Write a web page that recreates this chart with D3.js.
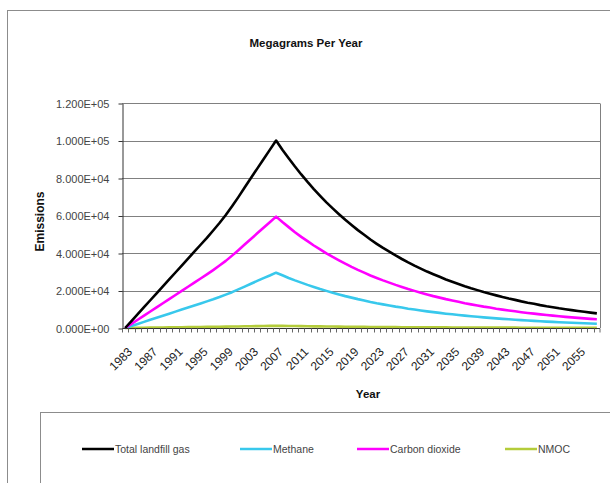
<!DOCTYPE html>
<html>
<head>
<meta charset="utf-8">
<script src="https://cdn.jsdelivr.net/npm/d3@7/dist/d3.min.js"></script>
<style>
  html, body { margin: 0; padding: 0; background: #fff; }
  svg { display: block; font-family: "Liberation Sans", Arial, sans-serif; }
</style>
</head>
<body>
<svg id="chart" width="610" height="483"></svg>
<script>
// Landfill gas emissions, Mg per year, 1983-2058
const years = d3.range(1983, 2059);

const totalGas = [
  0, 3700, 7400, 11100, 14800, 18500, 22200, 25900, 29600, 33300,
  37000, 40700, 44400, 48100, 52000, 56000, 60300, 64900, 69800, 74900,
  80000, 85000, 90000, 95000, 100000, 95100, 90500, 86100, 81900, 77900,
  74100, 70500, 67000, 63800, 60700, 57700, 54900, 52200, 49700, 47200,
  44900, 42700, 40700, 38700, 36800, 35000, 33300, 31700, 30100, 28700,
  27300, 25900, 24700, 23500, 22300, 21200, 20200, 19200, 18300, 17400,
  16500, 15700, 15000, 14200, 13500, 12900, 12200, 11600, 11100, 10500,
  10000, 9540, 9070, 8630, 8210, 7810
];

const methane = [
  0, 1090, 2180, 3270, 4370, 5460, 6550, 7640, 8730, 9820,
  10900, 12000, 13100, 14200, 15300, 16500, 17800, 19100, 20600, 22100,
  23600, 25100, 26600, 28000, 29500, 28100, 26700, 25400, 24200, 23000,
  21900, 20800, 19800, 18800, 17900, 17000, 16200, 15400, 14700, 13900,
  13200, 12600, 12000, 11400, 10900, 10300, 9820, 9350, 8880, 8470,
  8050, 7640, 7290, 6930, 6580, 6250, 5960, 5660, 5400, 5130,
  4870, 4630, 4430, 4190, 3980, 3810, 3600, 3420, 3270, 3100,
  2950, 2810, 2680, 2550, 2420, 2300
];

const carbonDioxide = [
  0, 2200, 4400, 6590, 8790, 11000, 13200, 15400, 17600, 19800,
  22000, 24200, 26400, 28600, 30900, 33300, 35800, 38600, 41500, 44500,
  47500, 50500, 53500, 56400, 59400, 56500, 53800, 51100, 48600, 46300,
  44000, 41900, 39800, 37900, 36100, 34300, 32600, 31000, 29500, 28000,
  26700, 25400, 24200, 23000, 21900, 20800, 19800, 18800, 17900, 17000,
  16200, 15400, 14700, 14000, 13200, 12600, 12000, 11400, 10900, 10300,
  9800, 9330, 8910, 8430, 8020, 7660, 7250, 6890, 6590, 6240,
  5940, 5670, 5390, 5130, 4880, 4640
];

const nmoc = [
  0, 44, 89, 133, 178, 222, 266, 311, 355, 400,
  444, 488, 533, 577, 624, 672, 724, 779, 838, 899,
  960, 1020, 1080, 1140, 1200, 1140, 1090, 1030, 980, 930,
  890, 850, 800, 770, 730, 690, 660, 630, 600, 570,
  540, 510, 490, 460, 440, 420, 400, 380, 360, 340,
  330, 310, 300, 280, 270, 250, 240, 230, 220, 210,
  200, 190, 180, 170, 160, 150, 150, 140, 130, 130,
  120, 110, 110, 100, 100, 90
];

const seriesNames = ["Total landfill gas", "Methane", "Carbon dioxide", "NMOC"];
const seriesColors = ["#000000", "#38c8ec", "#ff00ff", "#b4cc3a"];
const seriesValues = [totalGas, methane, carbonDioxide, nmoc];

const yTicks = [0, 20000, 40000, 60000, 80000, 100000, 120000];
const xLabelYears = d3.range(1983, 2059, 4);

const svg = d3.select("#chart");

// outer chart frame
svg.append("rect")
  .attr("x", 7.5).attr("y", 10.5)
  .attr("width", 620).attr("height", 500)
  .attr("fill", "#fff").attr("stroke", "#8c8c8c").attr("stroke-width", 1);

const plot = { left: 122, right: 600, top: 103, bottom: 328 };

const x = d3.scaleBand()
  .domain(years)
  .range([plot.left, plot.right])
  .paddingInner(0).paddingOuter(0);
const cx = yr => x(yr) + x.bandwidth() / 2;

const y = d3.scaleLinear()
  .domain([0, 120000])
  .range([plot.bottom, plot.top]);

const sci = v => {
  const [m, e] = v.toExponential(3).split("e");
  const n = Math.abs(+e);
  return m + "E" + (+e < 0 ? "-" : "+") + (n < 10 ? "0" + n : n);
};

// gridlines
svg.append("g")
  .selectAll("line")
  .data(yTicks.filter(d => d > 0))
  .join("line")
  .attr("x1", plot.left).attr("x2", plot.right)
  .attr("y1", d => Math.round(y(d)) + 0.5).attr("y2", d => Math.round(y(d)) + 0.5)
  .attr("stroke", "#808080").attr("stroke-width", 1);

// right border of plot area
svg.append("line")
  .attr("x1", plot.right + 0.5).attr("x2", plot.right + 0.5)
  .attr("y1", Math.round(y(120000)) + 0.5).attr("y2", plot.bottom)
  .attr("stroke", "#808080");

// y axis
const yAxis = svg.append("g")
  .attr("transform", `translate(${plot.left + 0.5},0.5)`)
  .call(d3.axisLeft(y).tickValues(yTicks).tickFormat(sci).tickSize(4).tickPadding(9).tickSizeOuter(0));
yAxis.select(".domain").attr("stroke", "#333");
yAxis.selectAll(".tick line").attr("stroke", "#333");
yAxis.selectAll("text")
  .attr("font-size", 11).attr("fill", "#444")
  .attr("font-family", "'Liberation Sans', Arial, sans-serif");

// series lines
const line = d3.line()
  .x((d, i) => cx(years[i]))
  .y(d => y(d));

svg.append("g")
  .selectAll("path")
  .data([3, 1, 2, 0])
  .join("path")
  .attr("d", k => line(seriesValues[k]))
  .attr("fill", "none")
  .attr("stroke", k => seriesColors[k])
  .attr("stroke-width", 2.6)
  .attr("stroke-linejoin", "round");

// x axis
const xAxisG = svg.append("g")
  .attr("transform", `translate(0,${plot.bottom + 0.5})`);
xAxisG.append("line")
  .attr("x1", plot.left).attr("x2", plot.right)
  .attr("stroke", "#333");
xAxisG.selectAll("line.tk")
  .data(years.concat([null]))
  .join("line")
  .attr("class", "tk")
  .attr("x1", d => d === null ? plot.right : Math.round(x(d)) + 0.5)
  .attr("x2", d => d === null ? plot.right : Math.round(x(d)) + 0.5)
  .attr("y1", 0).attr("y2", 4)
  .attr("stroke", "#666");

xAxisG.selectAll("text")
  .data(xLabelYears)
  .join("text")
  .attr("transform", d => `translate(${cx(d) + 2},${18}) rotate(-45)`)
  .attr("text-anchor", "end")
  .attr("dy", "0.7em")
  .attr("font-size", 12)
  .attr("fill", "#222")
  .text(d => d);

// titles
svg.append("text")
  .attr("x", 306).attr("y", 47)
  .attr("text-anchor", "middle")
  .attr("font-size", 11.5).attr("font-weight", "bold").attr("fill", "#111")
  .text("Megagrams Per Year");

svg.append("text")
  .attr("transform", `translate(44,${(plot.top + plot.bottom) / 2 + 6}) rotate(-90)`)
  .attr("text-anchor", "middle")
  .attr("font-size", 12).attr("font-weight", "bold").attr("fill", "#111")
  .text("Emissions");

svg.append("text")
  .attr("x", 368).attr("y", 398)
  .attr("text-anchor", "middle")
  .attr("font-size", 11.5).attr("font-weight", "bold").attr("fill", "#111")
  .text("Year");

// legend
svg.append("rect")
  .attr("x", 40.5).attr("y", 412.5)
  .attr("width", 600).attr("height", 100)
  .attr("fill", "#fff").attr("stroke", "#8c8c8c");

const legendX = [82, 240, 357, 505];
const legend = svg.append("g")
  .selectAll("g")
  .data(seriesNames)
  .join("g")
  .attr("transform", (d, i) => `translate(${legendX[i]},449)`);
legend.append("line")
  .attr("x1", 0).attr("x2", 32)
  .attr("stroke", (d, i) => seriesColors[i])
  .attr("stroke-width", 2.5);
legend.append("text")
  .attr("x", 33).attr("dy", "0.35em")
  .attr("font-size", 10.5).attr("fill", "#444")
  .text(d => d);
</script>
</body>
</html>
